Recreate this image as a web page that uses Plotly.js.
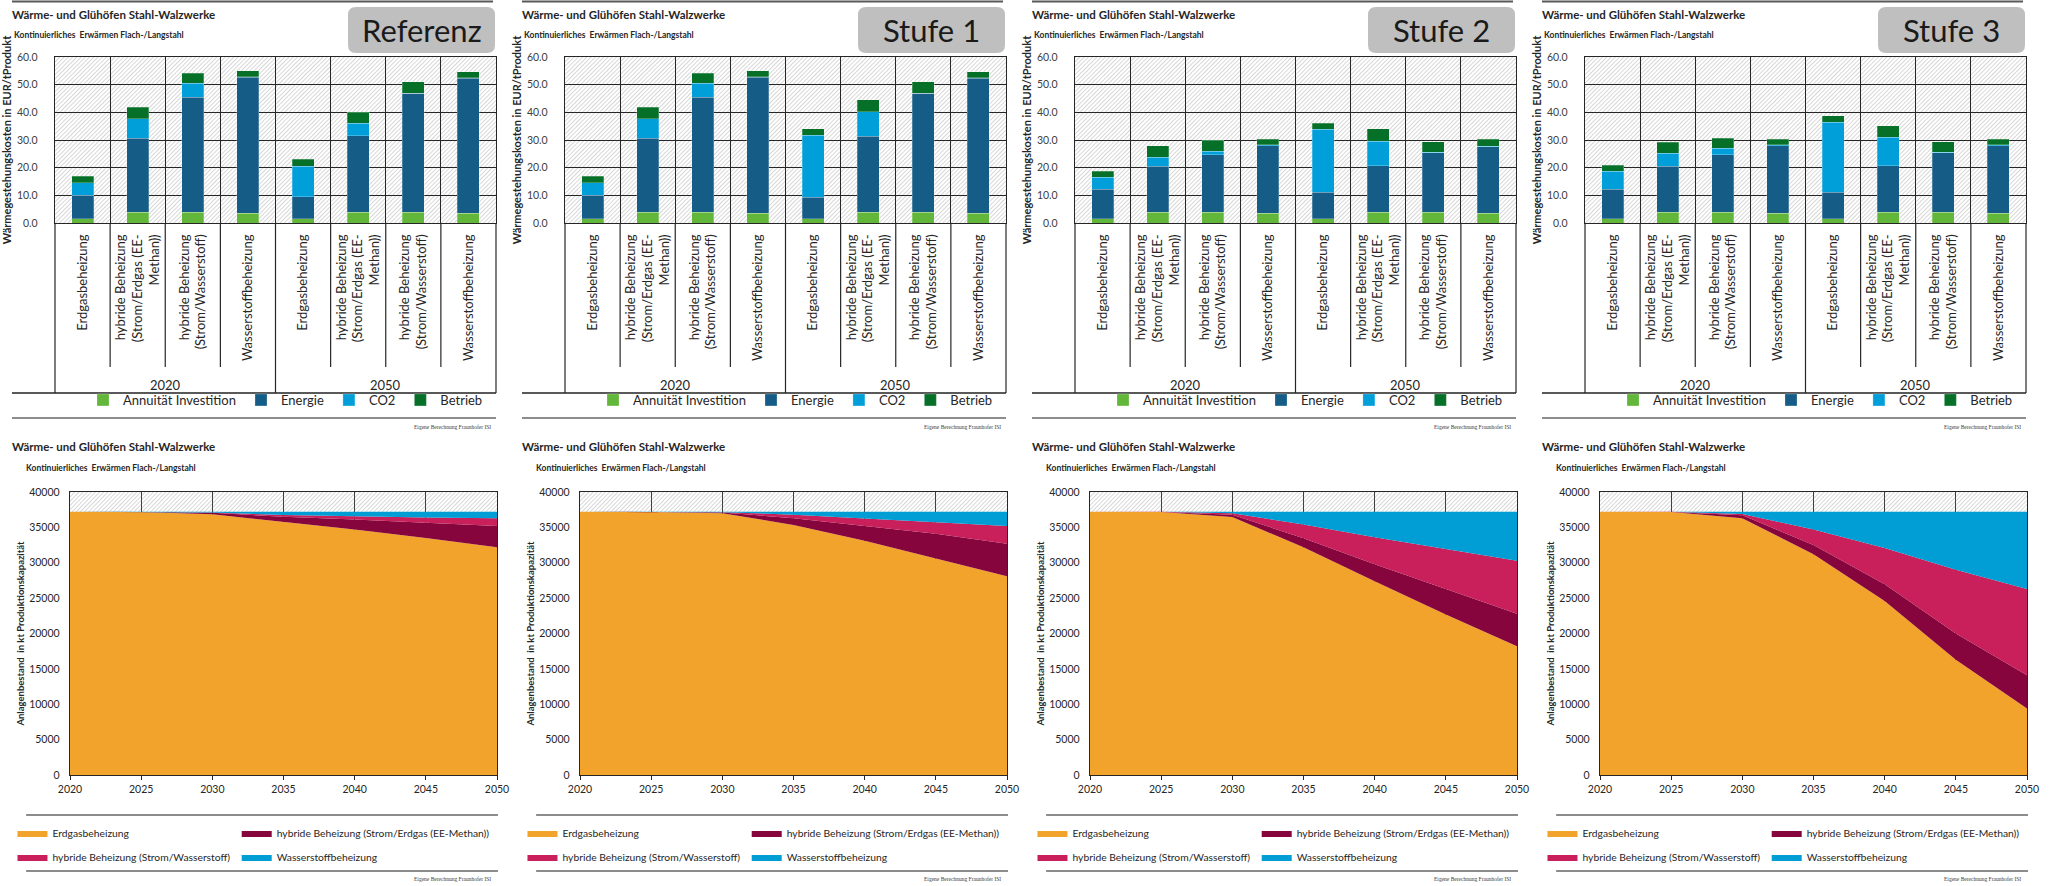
<!DOCTYPE html>
<html><head><meta charset="utf-8">
<script src="https://cdn.plot.ly/plotly-3.0.1.min.js"></script>
<style>
html,body{margin:0;padding:0;background:#fff;width:2052px;height:886px;overflow:hidden;}
.p{position:absolute;}
</style></head><body>
<div id="t0" class="p"></div><div id="t1" class="p"></div><div id="t2" class="p"></div><div id="t3" class="p"></div>
<div id="b0" class="p"></div><div id="b1" class="p"></div><div id="b2" class="p"></div><div id="b3" class="p"></div>
<script>
// ---------------- DATA ----------------
const scenarios = ['Referenz', 'Stufe 1', 'Stufe 2', 'Stufe 3'];
const chartTitle = 'Wärme- und Glühöfen Stahl-Walzwerke';
const chartSubtitle = 'Kontinuierliches  Erwärmen Flach-/Langstahl';
const sourceNote = 'Eigene Berechnung Fraunhofer ISI';
const yearGroups = ['2020', '2050'];
const technologyLabels = ['Erdgasbeheizung', 'hybride Beheizung<br>(Strom/Erdgas (EE-<br>Methan))', 'hybride Beheizung<br>(Strom/Wasserstoff)', 'Wasserstoffbeheizung'];
const costComponents = ['Annuität Investition', 'Energie', 'CO2', 'Betrieb'];
const costAxisTitle = 'Wärmegestehungskosten in EUR/tProdukt';

// EUR/t Produkt; order: 2020 (4 technologies), 2050 (4 technologies)
const refAnnuitaet = [1.6, 3.9, 3.9, 3.6, 1.6, 3.9, 3.9, 3.6];
const refEnergie   = [8.4, 26.7, 41.5, 49.0, 7.8, 27.7, 43.0, 48.7];
const refCO2       = [4.5, 7.0, 5.2, 0.3, 11.2, 4.4, 0.0, 0.2];
const refBetrieb   = [2.4, 4.3, 3.6, 2.1, 2.4, 4.0, 4.1, 2.2];

const st1Annuitaet = [1.6, 3.9, 3.9, 3.6, 1.5, 3.8, 3.9, 3.6];
const st1Energie   = [8.4, 26.7, 41.5, 49.0, 7.8, 27.6, 43.0, 48.7];
const st1CO2       = [4.5, 7.0, 5.2, 0.3, 22.4, 8.9, 0.0, 0.2];
const st1Betrieb   = [2.4, 4.3, 3.6, 2.1, 2.3, 4.3, 4.1, 2.2];

const st2Annuitaet = [1.6, 3.9, 3.9, 3.6, 1.6, 3.9, 3.9, 3.6];
const st2Energie   = [10.6, 16.7, 20.7, 24.3, 9.6, 16.8, 21.5, 24.0];
const st2CO2       = [4.3, 3.1, 1.4, 0.3, 22.7, 8.9, 0.1, 0.2];
const st2Betrieb   = [2.2, 4.2, 4.0, 2.0, 2.1, 4.4, 3.9, 2.4];

const st3Annuitaet = [1.6, 3.9, 3.9, 3.6, 1.6, 3.9, 3.9, 3.6];
const st3Energie   = [10.6, 16.7, 20.7, 24.3, 9.6, 16.8, 21.5, 24.3];
const st3CO2       = [6.5, 4.6, 2.4, 0.3, 25.2, 10.3, 0.1, 0.3];
const st3Betrieb   = [2.2, 4.0, 3.6, 2.0, 2.3, 4.2, 3.9, 2.0];

const stockYears = [2020, 2025, 2030, 2035, 2040, 2045, 2050];
const stockTechnologies = ['Erdgasbeheizung', 'hybride Beheizung (Strom/Erdgas (EE-Methan))', 'hybride Beheizung (Strom/Wasserstoff)', 'Wasserstoffbeheizung'];
const stockAxisTitle = 'Anlagenbestand  in kt Produktionskapazität';

// kt Produktionskapazität
const refErdgas      = [37200, 37180, 36850, 35800, 34700, 33500, 32200];
const refHybridEE    = [0, 10, 200, 700, 1400, 2200, 3000];
const refHybridH2    = [0, 10, 60, 250, 450, 700, 1100];
const refWasserstoff = [0, 0, 90, 450, 650, 800, 900];

const st1Erdgas      = [37200, 37170, 37000, 35350, 33100, 30600, 28100];
const st1HybridEE    = [0, 10, 100, 950, 2100, 3500, 4600];
const st1HybridH2    = [0, 20, 50, 500, 1100, 1700, 2500];
const st1Wasserstoff = [0, 0, 50, 400, 900, 1400, 2000];

const st2Erdgas      = [37200, 37170, 36450, 32200, 27400, 22700, 18200];
const st2HybridEE    = [0, 10, 350, 1250, 2400, 3600, 4600];
const st2HybridH2    = [0, 20, 200, 1950, 3800, 5600, 7500];
const st2Wasserstoff = [0, 0, 200, 1800, 3600, 5300, 6900];

const st3Erdgas      = [37200, 37170, 36300, 31200, 24600, 16300, 9400];
const st3HybridEE    = [0, 10, 400, 1300, 2350, 3700, 4700];
const st3HybridH2    = [0, 20, 200, 2200, 5150, 9000, 12200];
const st3Wasserstoff = [0, 0, 300, 2500, 5100, 8200, 10900];

// ---------------- STYLE ----------------
const costColors = ['#62B73A', '#155D87', '#009FDA', '#077028'];
const stockColors = ['#F2A32C', '#85053C', '#C9205B', '#019ED6'];
const stockLegendColumn = ['legend', 'legend2', 'legend', 'legend2'];
const FONT = 'Lato, "Open Sans", "DejaVu Sans", sans-serif';
const TXT = '#262626';
const W = 510;
const colX = [0, 510, 1020, 1530];

const costSets = [
  [refAnnuitaet, refEnergie, refCO2, refBetrieb],
  [st1Annuitaet, st1Energie, st1CO2, st1Betrieb],
  [st2Annuitaet, st2Energie, st2CO2, st2Betrieb],
  [st3Annuitaet, st3Energie, st3CO2, st3Betrieb]
];
const stockSets = [
  [refErdgas, refHybridEE, refHybridH2, refWasserstoff],
  [st1Erdgas, st1HybridEE, st1HybridH2, st1Wasserstoff],
  [st2Erdgas, st2HybridEE, st2HybridH2, st2Wasserstoff],
  [st3Erdgas, st3HybridEE, st3HybridH2, st3Wasserstoff]
];

// unique category keys (invisible suffix distinguishes the year groups)
const categoryKeys = yearGroups.flatMap((g, gi) => technologyLabels.map(t => t + '\u200B'.repeat(gi)));

function hatch(w, h) {
  const svg = "<svg xmlns='http://www.w3.org/2000/svg' width='" + w + "' height='" + h + "'>" +
    "<defs><pattern id='h' width='3' height='3' patternUnits='userSpaceOnUse' patternTransform='rotate(45)'>" +
    "<rect width='3' height='3' fill='#ffffff'/><line x1='0.5' y1='0' x2='0.5' y2='3' stroke='#d2d2d2' stroke-width='0.9'/></pattern></defs>" +
    "<rect width='" + w + "' height='" + h + "' fill='url(#h)'/></svg>";
  return 'data:image/svg+xml;charset=utf-8,' + encodeURIComponent(svg);
}

function frame(H, m) {
  const pw = W - m.l - m.r, ph = H - m.t - m.b;
  return {pw, ph, X: px => (px - m.l) / pw, Y: py => (H - m.b - py) / ph};
}
function hline(c, x0, x1, y, color, w) {
  return {type: 'line', xref: 'paper', yref: 'paper', x0: c.X(x0), x1: c.X(x1), y0: c.Y(y), y1: c.Y(y), line: {color, width: w}};
}
function roundRect(c, x0, y0, x1, y1, r) {
  const P = (x, y) => c.X(x).toFixed(5) + ',' + c.Y(y).toFixed(5);
  return 'M' + P(x0 + r, y0) + ' L' + P(x1 - r, y0) + ' Q' + P(x1, y0) + ' ' + P(x1, y0 + r) +
    ' L' + P(x1, y1 - r) + ' Q' + P(x1, y1) + ' ' + P(x1 - r, y1) +
    ' L' + P(x0 + r, y1) + ' Q' + P(x0, y1) + ' ' + P(x0, y1 - r) +
    ' L' + P(x0, y0 + r) + ' Q' + P(x0, y0) + ' ' + P(x0 + r, y0) + ' Z';
}
function ann(c, x, y, text, size, opts) {
  return Object.assign({xref: 'paper', yref: 'paper', x: c.X(x), y: c.Y(y), text, showarrow: false,
    xanchor: 'left', yanchor: 'middle', font: {family: FONT, size, color: TXT}}, opts || {});
}

function topChart(i) {
  const H = 443;
  const m = {l: 55, r: 14, t: 57, b: 220};
  const c = frame(H, m);
  const el = document.getElementById('t' + i);
  el.style.left = colX[i] + 'px'; el.style.top = '0px';
  const traces = costComponents.map((name, k) => ({
    type: 'bar', name, x: categoryKeys, y: costSets[i][k],
    marker: {color: costColors[k], line: {color: 'rgba(255,255,255,0.3)', width: 0.8}}
  }));
  // category separators below the axis (boundaries between categories)
  const n = categoryKeys.length;
  const sepShapes = [];
  for (let k = 0; k <= n; k++) {
    const full = (k === 0 || k === n || k === n / 2);
    sepShapes.push({type: 'line', xref: 'x domain', yref: 'paper', x0: k / n, x1: k / n,
      y0: c.Y(223), y1: c.Y(full ? 393 : 367), line: {color: '#262626', width: 1.2}});
  }
  const layout = {
    width: W, height: H, margin: m, autosize: false,
    paper_bgcolor: 'rgba(0,0,0,0)', plot_bgcolor: 'rgba(0,0,0,0)',
    barmode: 'stack', bargap: 0.6, showlegend: true,
    font: {family: FONT, color: TXT},
    title: {text: chartTitle, xref: 'container', yref: 'container', x: 12 / W, y: 1 - 15 / H,
      xanchor: 'left', yanchor: 'middle', font: {family: FONT, size: 11.5, weight: 'bold', color: TXT}},
    xaxis: {type: 'category', tickson: 'boundaries', ticks: '',
      showgrid: true, gridcolor: '#262626', gridwidth: 1, tickangle: -90, ticklabelstandoff: 5,
      tickfont: {family: FONT, size: 13, color: TXT}, showline: true, mirror: true, linecolor: '#262626', linewidth: 1.2},
    yaxis: {range: [0, 60], dtick: 10, tickformat: '.1f', showgrid: true, gridcolor: '#262626', gridwidth: 1,
      zeroline: false, showline: true, mirror: true, linecolor: '#262626', linewidth: 1.2, ticks: '',
      ticklabelstandoff: 14, tickfont: {family: FONT, size: 10.5, color: '#404040'},
      title: {text: costAxisTitle, standoff: 3, font: {family: FONT, size: 11, weight: 'bold', color: TXT}}},
    legend: {orientation: 'h', x: c.X(83), xanchor: 'left', y: c.Y(400), yanchor: 'middle', traceorder: 'normal',
      bgcolor: 'rgba(0,0,0,0)', font: {family: FONT, size: 13, color: TXT}},
    images: [{source: hatch(c.pw, c.ph), xref: 'paper', yref: 'paper', x: 0, y: 1, sizex: 1, sizey: 1,
      sizing: 'stretch', xanchor: 'left', yanchor: 'top', layer: 'below'}],
    shapes: [
      hline(c, 12, 493, 1.5, '#595959', 2),
      hline(c, 12, 496, 393, '#595959', 2),
      hline(c, 12, 496, 418, '#8c8c8c', 2),
      ...sepShapes,
      {type: 'path', xref: 'paper', yref: 'paper', path: roundRect(c, 348, 7, 495, 53, 8), fillcolor: '#BFBFBF', line: {width: 0}}
    ],
    annotations: [
      ann(c, 12, 35, chartSubtitle, 8.5, {font: {family: FONT, size: 8.5, weight: 'bold', color: TXT}}),
      ann(c, 421.5, 30, scenarios[i], 31, {xanchor: 'center', font: {family: FONT, size: 31, color: '#1a1a1a'}}),
      {xref: 'x domain', yref: 'paper', x: 0.25, y: c.Y(385), text: yearGroups[0], showarrow: false, xanchor: 'center', yanchor: 'middle', font: {family: FONT, size: 13, color: TXT}},
      {xref: 'x domain', yref: 'paper', x: 0.75, y: c.Y(385), text: yearGroups[1], showarrow: false, xanchor: 'center', yanchor: 'middle', font: {family: FONT, size: 13, color: TXT}},
      ann(c, 493, 427, sourceNote, 5.5, {xanchor: 'right', font: {family: '"Liberation Serif", serif', size: 5.5, color: '#404040'}})
    ]
  };
  Plotly.newPlot(el, traces, layout, {staticPlot: true, displayModeBar: false});
}

function bottomChart(i) {
  const H = 450;
  const top = 436;
  const m = {l: 59, r: 13, t: 56, b: 111};
  const c = frame(H, m);
  const el = document.getElementById('b' + i);
  el.style.left = colX[i] + 'px'; el.style.top = top + 'px';
  const traces = stockTechnologies.map((name, k) => ({
    type: 'scatter', mode: 'lines', name, x: stockYears, y: stockSets[i][k], stackgroup: 'one',
    legend: stockLegendColumn[k], legendgroup: 'g' + k,
    fillcolor: stockColors[k], line: {width: 0, color: stockColors[k]}
  }));
  const legendBase = {orientation: 'v', xanchor: 'left', y: c.Y(409), yanchor: 'middle', traceorder: 'grouped',
    tracegroupgap: 5, bgcolor: 'rgba(0,0,0,0)', font: {family: FONT, size: 10.3, color: TXT}};
  const layout = {
    width: W, height: H, margin: m, autosize: false,
    paper_bgcolor: 'rgba(0,0,0,0)', plot_bgcolor: 'rgba(0,0,0,0)', showlegend: true,
    font: {family: FONT, color: TXT},
    title: {text: chartTitle, xref: 'container', yref: 'container', x: 12 / W, y: 1 - 11 / H,
      xanchor: 'left', yanchor: 'middle', font: {family: FONT, size: 11.5, weight: 'bold', color: TXT}},
    xaxis: {range: [2020, 2050], dtick: 5, tickformat: 'd', ticks: 'outside', ticklen: 4, tickcolor: '#262626',
      showgrid: true, gridcolor: '#404040', gridwidth: 1.3, zeroline: false, showline: true, mirror: true,
      linecolor: '#262626', linewidth: 1.3, tickfont: {family: FONT, size: 10.5, color: TXT}},
    yaxis: {range: [0, 40000], dtick: 5000, tickformat: 'd', showgrid: false, zeroline: false, showline: true, mirror: true,
      linecolor: '#262626', linewidth: 1.3, ticks: '', ticklabelstandoff: 7, tickfont: {family: FONT, size: 10.5, color: TXT}},
    legend: Object.assign({}, legendBase, {x: c.X(0)}),
    legend2: Object.assign({}, legendBase, {x: c.X(230)}),
    images: [{source: hatch(c.pw, c.ph), xref: 'paper', yref: 'paper', x: 0, y: 1, sizex: 1, sizey: 1,
      sizing: 'stretch', xanchor: 'left', yanchor: 'top', layer: 'below'}],
    shapes: [
      hline(c, 14, 498, 379, '#8c8c8c', 2),
      hline(c, 14, 498, 435, '#8c8c8c', 2)
    ],
    annotations: [
      ann(c, 12, 32, chartSubtitle, 8.5, {font: {family: FONT, size: 8.5, weight: 'bold', color: TXT}}),
      ann(c, 493, 443, sourceNote, 5.5, {xanchor: 'right', font: {family: '"Liberation Serif", serif', size: 5.5, color: '#404040'}})
    ]
  };
  layout.yaxis.title = {text: stockAxisTitle, standoff: 2, font: {family: FONT, size: 9.5, weight: 'bold', color: TXT}};
  Plotly.newPlot(el, traces, layout, {staticPlot: true, displayModeBar: false});
}

for (let i = 0; i < 4; i++) { topChart(i); bottomChart(i); }
</script>
</body></html>
